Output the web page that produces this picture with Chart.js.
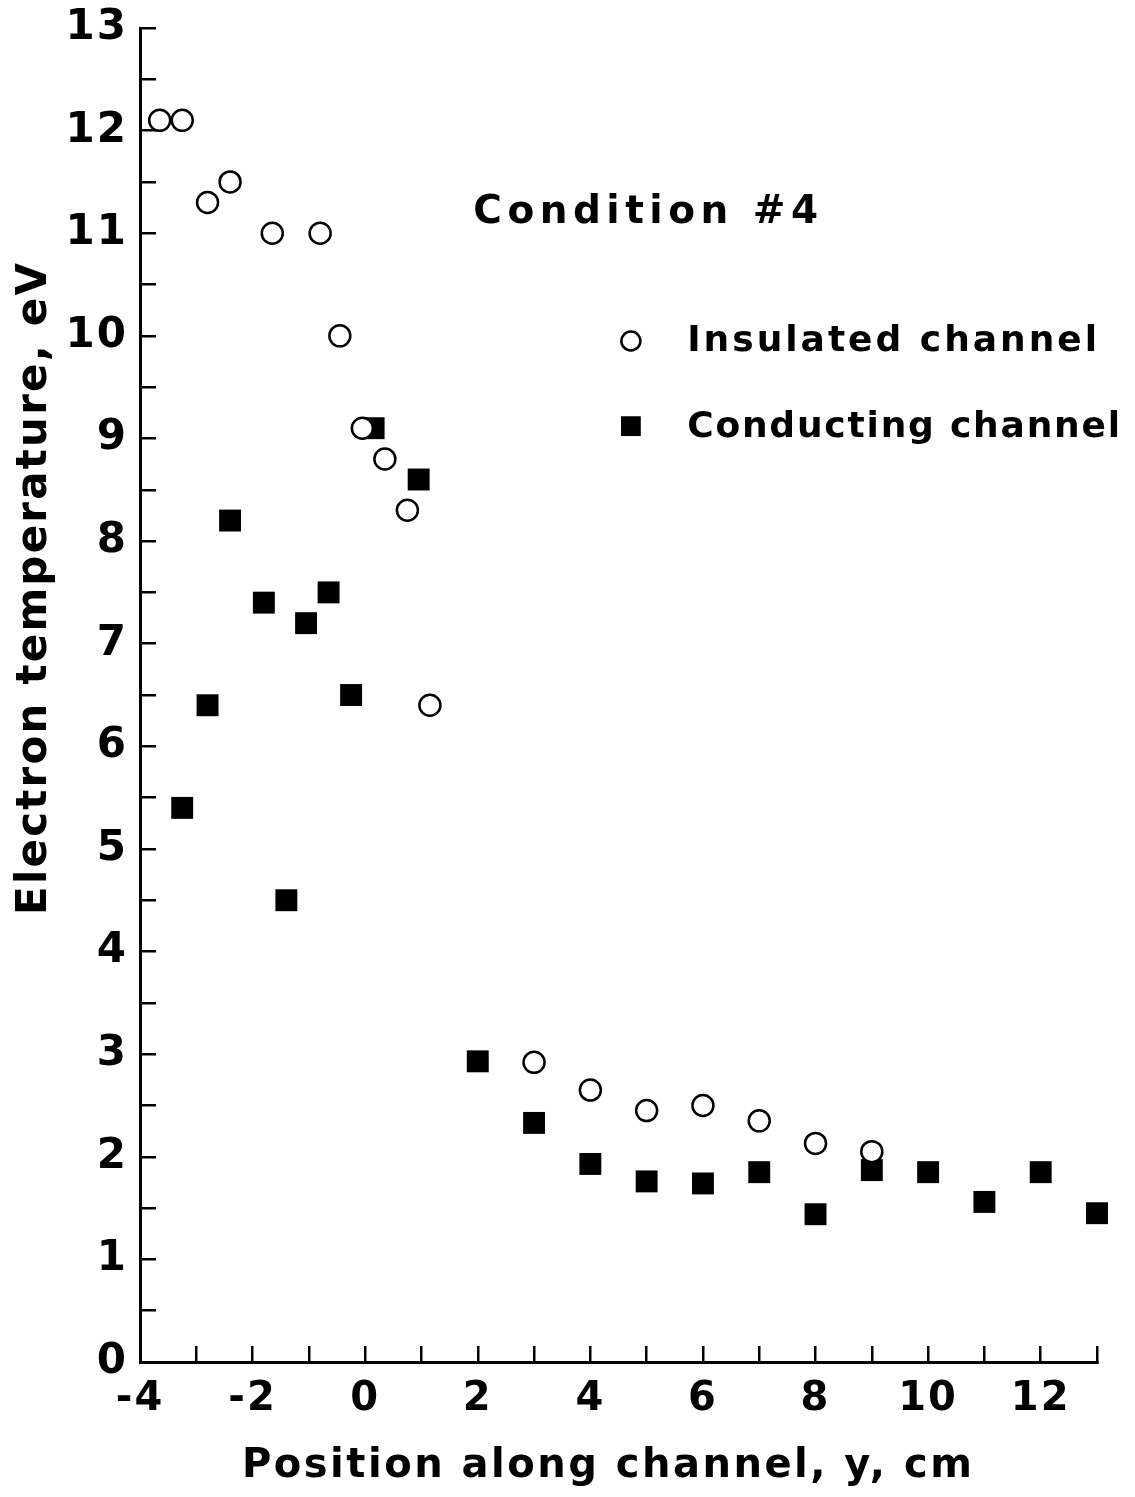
<!DOCTYPE html>
<html>
<head>
<meta charset="utf-8">
<title>Electron temperature along channel</title>
<script src="https://cdn.jsdelivr.net/npm/chart.js@4.4.1/dist/chart.umd.min.js"></script>
<style>
  html, body { margin: 0; padding: 0; background: #fff; }
  canvas { display: block; }
</style>
</head>
<body>
<canvas id="tempChart" width="1135" height="1497"></canvas>
<script>
// values (position y in cm, electron temperature in eV)
const insulatedX = [-3.65, -3.25, -2.8, -2.4, -1.65, -0.8, -0.45, -0.05, 0.35, 0.75, 1.15, 3, 4, 5, 6, 7, 8, 9];
const insulatedY = [12.1, 12.1, 11.3, 11.5, 11.0, 11.0, 10.0, 9.1, 8.8, 8.3, 6.4, 2.92, 2.65, 2.45, 2.5, 2.35, 2.13, 2.05];

const conductingX = [-3.25, -2.8, -2.4, -1.8, -1.4, -1.05, -0.65, -0.25, 0.15, 0.95, 2, 3, 4, 5, 6, 7, 8, 9, 10, 11, 12, 13];
const conductingY = [5.4, 6.4, 8.2, 7.4, 4.5, 7.2, 7.5, 6.5, 9.1, 8.6, 2.93, 2.33, 1.93, 1.76, 1.74, 1.85, 1.44, 1.87, 1.85, 1.56, 1.85, 1.45];

const seriesLabels = ["Insulated channel", "Conducting channel"];
const conditionLabel = "Condition #4";
const xTitle = "Position along channel, y, cm";
const yTitle = "Electron temperature, eV";

const FONT = '"DejaVu Sans", sans-serif';

function toPoints(xs, ys) {
  return xs.map((x, i) => ({ x: x, y: ys[i] }));
}

// axis titles, the "Condition" note and the legend inside the plot
const figureText = {
  id: 'figureText',
  beforeDraw(chart) {
    chart.ctx.letterSpacing = '2px';
  },
  afterDraw(chart) {
    const { ctx, scales: { x, y } } = chart;
    ctx.save();
    ctx.fillStyle = '#000';
    ctx.strokeStyle = '#000';

    // x axis title
    ctx.font = 'bold 40px ' + FONT;
    ctx.letterSpacing = '2.5px';
    ctx.textAlign = 'left';
    ctx.textBaseline = 'middle';
    ctx.fillText(xTitle, 242, 1467);

    // y axis title
    ctx.save();
    ctx.font = 'bold 42px ' + FONT;
    ctx.letterSpacing = '2.2px';
    ctx.textAlign = 'left';
    ctx.textBaseline = 'middle';
    ctx.translate(35, 915);
    ctx.rotate(-Math.PI / 2);
    ctx.fillText(yTitle, 0, 0);
    ctx.restore();

    // condition note
    ctx.font = 'bold 39px ' + FONT;
    ctx.letterSpacing = '5.5px';
    ctx.fillText(conditionLabel, x.getPixelForValue(1.92), y.getPixelForValue(11.2));

    // legend
    const ds = chart.data.datasets;
    const mx = x.getPixelForValue(4.72);
    const tx = x.getPixelForValue(5.72);
    const rows = [y.getPixelForValue(9.95), y.getPixelForValue(9.12)];
    ctx.font = 'bold 36px ' + FONT;
    ds.forEach((d, i) => {
      ctx.save();
      ctx.lineWidth = d.borderWidth;
      ctx.fillStyle = d.backgroundColor;
      ctx.strokeStyle = d.borderColor;
      Chart.helpers.drawPoint(ctx, {
        pointStyle: d.pointStyle,
        radius: i === 0 ? 9.5 : 14,
        borderWidth: d.borderWidth,
        rotation: 0
      }, mx, rows[i]);
      ctx.restore();
      ctx.letterSpacing = i === 0 ? '3px' : '1.8px';
      ctx.fillText(d.label, tx, rows[i] + 1);
    });
    ctx.restore();
  }
};

new Chart(document.getElementById('tempChart'), {
  type: 'scatter',
  data: {
    datasets: [
      {
        label: seriesLabels[0],
        data: toPoints(insulatedX, insulatedY),
        pointStyle: 'circle',
        pointRadius: 10.5,
        borderWidth: 2.5,
        borderColor: '#000',
        backgroundColor: '#fff',
        clip: false
      },
      {
        label: seriesLabels[1],
        data: toPoints(conductingX, conductingY),
        pointStyle: 'rect',
        pointRadius: 15.5,
        borderWidth: 0,
        borderColor: '#000',
        backgroundColor: '#000',
        clip: false
      }
    ]
  },
  options: {
    responsive: false,
    animation: false,
    layout: { padding: { top: 28, right: 38, left: 0, bottom: 0 } },
    plugins: {
      legend: { display: false },
      tooltip: { enabled: false }
    },
    scales: {
      x: {
        type: 'linear',
        min: -4,
        max: 13,
        border: { display: true, color: '#000', width: 3 },
        grid: { drawOnChartArea: false, color: '#000', lineWidth: 2.5, tickLength: -16 },
        ticks: {
          stepSize: 1,
          autoSkip: false,
          maxRotation: 0,
          padding: 30,
          color: '#000',
          font: { family: FONT, size: 40, weight: 'bold' },
          callback: v => (v % 2 === 0 ? String(v) : '')
        },
        afterFit: scale => {
          scale.height = 135;
          scale.paddingLeft = 0;
          scale.paddingRight = 0;
        }
      },
      y: {
        type: 'linear',
        min: 0,
        max: 13,
        border: { display: true, color: '#000', width: 3 },
        grid: { drawOnChartArea: false, color: '#000', lineWidth: 2.5, tickLength: -16 },
        ticks: {
          stepSize: 0.5,
          autoSkip: false,
          padding: 28,
          color: '#000',
          font: { family: FONT, size: 42, weight: 'bold' },
          callback: v => (Number.isInteger(v) ? String(v) : '')
        },
        afterFit: scale => {
          scale.width = 140;
          scale.paddingTop = 0;
          scale.paddingBottom = 0;
        }
      }
    }
  },
  plugins: [figureText]
});
</script>
</body>
</html>
